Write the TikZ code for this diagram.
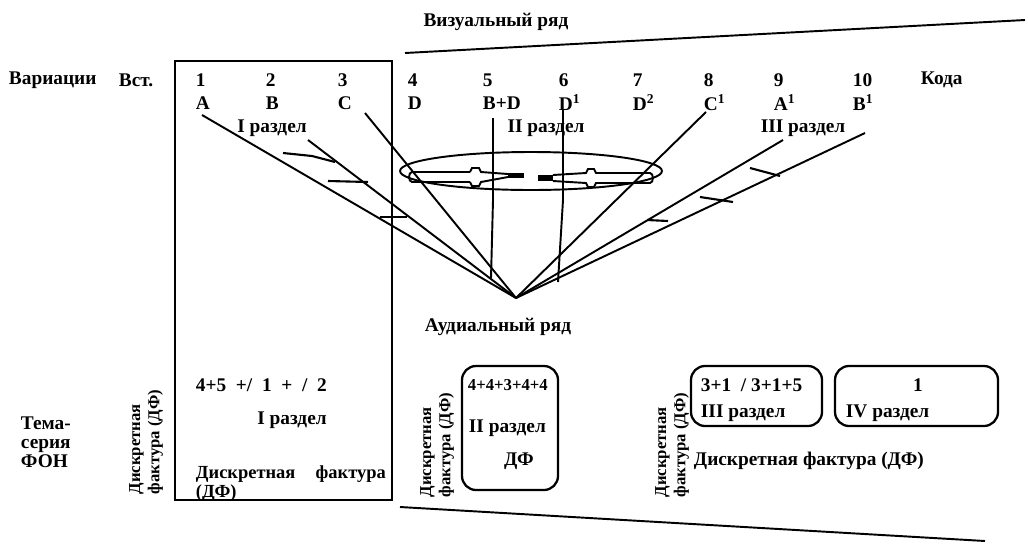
\documentclass[tikz,border=0pt]{standalone}
\usepackage{fontspec}
\setmainfont{Liberation Serif}
\usetikzlibrary{positioning}

\begin{document}
\begin{tikzpicture}[x=0.02cm, y=-0.02cm, line width=1.1pt,
  lbl/.style={font=\bfseries\fontsize{11}{13}\selectfont, inner sep=0pt},
  col/.style={lbl, anchor=west},
  vert/.style={rotate=90, align=left, inner sep=0pt,
               font=\bfseries\fontsize{9.5}{11}\selectfont},
  sec/.style={draw, rounded corners=8pt, line width=1.3pt},
  tick/.style={line width=1.2pt}]
\useasboundingbox (0,0) rectangle (1028,552);

% visual row
\node[lbl] (vis) at (496,22) {Визуальный ряд};
\coordinate (topL) at (405,53);
\coordinate (topR) at (1025,20);
\draw (topL) -- (topR);

\node[col] (var) at (8,80) {Вариации};
\node[col] (intro) at (118,80) {Вст.};
\draw[line width=1.4pt] (175,61) rectangle (392,500);

\node[col] (n1) at (195,80) {1};
\node[col] (n2) at (265,80) {2};
\node[col] (n3) at (337,80) {3};
\node[col] (n4) at (407,80) {4};
\node[col] (n5) at (482,80) {5};
\node[col] (n6) at (558,80) {6};
\node[col] (n7) at (632,80) {7};
\node[col] (n8) at (703,80) {8};
\node[col] (n9) at (773,80) {9};
\node[col] (n10) at (852,80) {10};
\node[col] (coda) at (920,80) {Кода};

\node[col] (t1) at (195,103) {A};
\node[col] (t2) at (265,103) {B};
\node[col] (t3) at (337,103) {C};
\node[col] (t4) at (407,103) {D};
\node[col] (t5) at (482,103) {B+D};
\node[col] (t6) at (558,103) {D\textsuperscript{1}};
\node[col] (t7) at (632,103) {D\textsuperscript{2}};
\node[col] (t8) at (703,103) {C\textsuperscript{1}};
\node[col] (t9) at (773,103) {A\textsuperscript{1}};
\node[col] (t10) at (852,103) {B\textsuperscript{1}};

\node[lbl] (sec1) at (272,128) {I раздел};
\node[lbl] (sec2) at (546,128) {II раздел};
\node[lbl] (sec3) at (803,128) {III раздел};

% fan to the audial row
\coordinate (V) at (516,298);
\coordinate (fA) at (202,115);
\coordinate (fB) at (308,140);
\coordinate (fC) at (365,113);
\coordinate (fC1) at (706,112);
\coordinate (fA1) at (783,140);
\coordinate (fB1) at (865,133);
\draw (fA) -- (V);
\draw (fB) -- (V);
\draw (fC) -- (V);
\draw (fC1) -- (V);
\draw (fA1) -- (V);
\draw (fB1) -- (V);
\draw (493,118) -- (493,200) -- (491,278);
\draw (563,110) -- (563,200) -- (558,282);

\draw[tick] (283,153) -- (312,156) -- (335,162);
\draw[tick] (328,181) -- (368,182);
\draw[tick] (380,217) -- (407,217);
\draw[tick] (750,168) -- (780,176);
\draw[tick] (700,197) -- (733,202);
\draw[tick] (647,220) -- (668,221);

% ellipse with the two inner pieces
\draw (531,171) ellipse [x radius=2.62cm, y radius=0.38cm];
\draw (470,172) -- (412,172) to[out=180,in=180] (412,182) -- (470,182);
\draw (470,172) -- (472,168) -- (479,168) -- (481,172) -- (508,174);
\draw (470,182) -- (472,186) -- (479,186) -- (481,182) -- (508,177);
\draw[line width=3pt] (508,175.5) -- (524,175.5);
\draw[line width=3pt] (538,178) -- (553,178);
\draw (553,175) -- (586,173) -- (588,169) -- (594,169) -- (596,173) -- (650,173)
  to[out=0,in=0] (650,183) -- (596,183) -- (594,187) -- (588,187) -- (586,183) -- (553,181);

\node[lbl] (aud) at (498,327) {Аудиальный ряд};

% background series
\node[lbl, anchor=north west, align=left, font=\bfseries\fontsize{11}{10.8}\selectfont]
  (fon) at (20,416) {Тема-\\серия\\ФОН};
\node[vert] (df1) at (146,442) {Дискретная\\фактура (ДФ)};
\node[col] (r1) at (195,385) {4+5~~+/~~1~~+~~/~~2};
\node[lbl] (r1s) at (292,420) {I раздел};
\node[col, font=\bfseries\fontsize{10.5}{12}\selectfont] (r1d) at (195,474) {Дискретная\hspace{1.1em}фактура};
\node[col, font=\bfseries\fontsize{10.5}{12}\selectfont] (r1e) at (195,493) {(ДФ)};

\node[vert] (df2) at (437,445) {Дискретная\\фактура (ДФ)};
\draw[sec] (462,366) rectangle (558,490);
\node[col, font=\bfseries\fontsize{9.5}{11}\selectfont] (r2) at (467,385) {4+4+3+4+4};
\node[col] (r2s) at (468,428) {II раздел};
\node[lbl] (r2d) at (519,461) {ДФ};

\node[vert] (df3) at (672,445) {Дискретная\\фактура (ДФ)};
\draw[sec] (691,366) rectangle (822,426);
\node[col] (r3) at (700,385) {3+1~~/ 3+1+5};
\node[col] (r3s) at (700,413) {III раздел};
\draw[sec] (835,366) rectangle (998,426);
\node[lbl] (r4) at (918,385) {1};
\node[col] (r4s) at (845,413) {IV раздел};
\node[col] (r34d) at (693,461) {Дискретная фактура (ДФ)};

\coordinate (botL) at (400,507);
\coordinate (botR) at (985,541);
\draw (botL) -- (botR);
\end{tikzpicture}
\end{document}
